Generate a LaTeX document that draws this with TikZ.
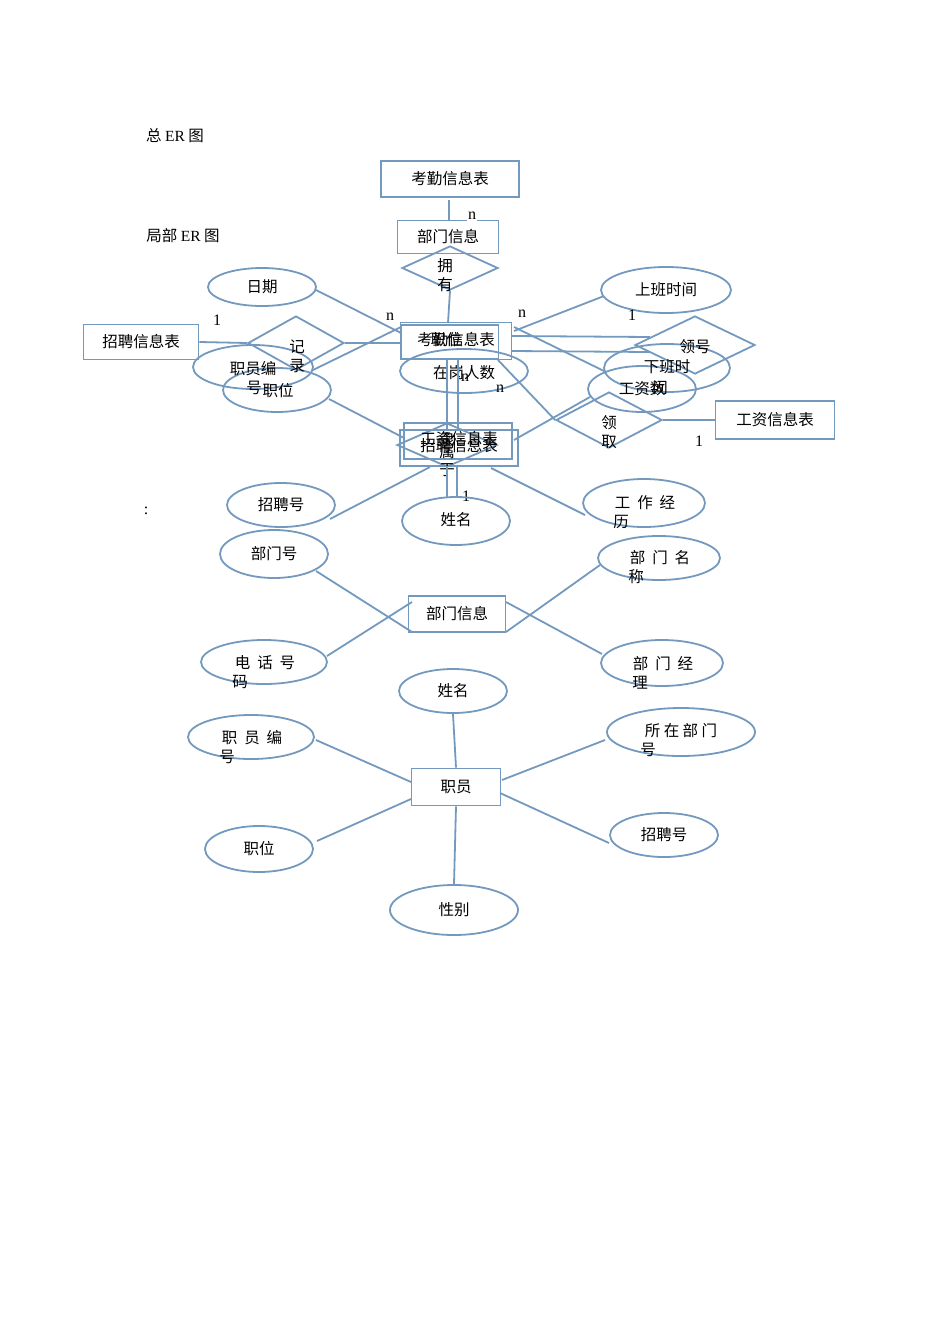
\documentclass[tikz,border=0pt]{standalone}
\usepackage{fontspec}
\setmainfont{Liberation Serif}
\newfontfamily\cjk{Noto Sans CJK SC}
\usetikzlibrary{shapes.geometric}
\definecolor{er}{HTML}{7399BF}
\tikzset{x=1pt,y=-1pt,
 ln/.style={draw=er,line width=1.8pt},
 ent/.style={ln,rectangle,minimum width=#1,minimum height=36pt,inner sep=0pt},
 att/.style={ln,ellipse,minimum width=#1,inner sep=0pt},
 rel/.style={ln,diamond,minimum width=#1,inner sep=0pt,aspect=2.1},
 tx/.style={font=\cjk\fontsize{15.5pt}{17pt}\selectfont,inner sep=0pt},
 lt/.style={font=\fontsize{16pt}{17pt}\selectfont,inner sep=0pt}}
\begin{document}
\begin{tikzpicture}
\useasboundingbox (0,0) rectangle (950,1344);
\node[tx] (t1) at (175,136) {总 \textrm{ER} 图};
\node[tx] (t2) at (183,236) {局部 \textrm{ER} 图};
\node[lt] (t3) at (146,511) {:};
% top
\node[ent=138pt] (kq1) at (450,179) {};
\node[tx] at (kq1) {考勤信息表};
\node[ent=101pt,minimum height=33pt] (bm1) at (448,237) {};
\node[tx] at (bm1) {部门信息};
\node[rel=96pt,minimum height=44pt] (yy) at (450,268) {};
\node[tx] at (445,266) {拥}; \node[tx] at (445,285) {有};
\node[lt,fill=white,inner sep=1pt] at (472,216) {n};
\node[att=108pt,minimum height=38pt] (rq) at (262,287) {}; \node[tx] at (rq) {日期};
\node[att=130pt,minimum height=46pt] (sb) at (666,290) {}; \node[tx] at (sb) {上班时间};
\node[ent=115pt,minimum height=35pt] (zp1) at (141,342) {}; \node[tx] at (zp1) {招聘信息表};
\node[lt] at (217,320) {1};
\node[rel=96pt,minimum height=54pt] (jl) at (296,343) {};
\node[att=120pt,minimum height=44pt] (zb1) at (253,367) {};
\node[att=108pt,minimum height=44pt] (zw1) at (277,390) {};
\node[tx] at (297,347) {记}; \node[tx] at (297,366) {录};
\node[tx] at (253,369) {职员编}; \node[tx] at (254,388) {号};
\node[tx] at (278,391) {职位};
\node[ent=111pt,minimum height=37pt] (kq2) at (456,341) {};
\node[ent=97pt,minimum height=34pt] (kq3) at (450,342) {};
\node[tx] at (456,340) {考勤信息表}; \node[tx] at (446,340) {职位};
\node[lt] at (390,317) {n}; \node[lt] at (522,314) {n};
\node[att=128pt,minimum height=44pt] (zg) at (464,371) {}; \node[tx] at (464,373) {在岗人数};
\node[lt] at (465,378) {n}; \node[lt] at (500,389) {n};
\node[lt] at (632,315) {1};
\node[rel=120pt,minimum height=58pt] (lh) at (695,345) {};
\node[att=126pt,minimum height=48pt] (xb) at (667,368) {};
\node[att=108pt,minimum height=46pt] (gz) at (642,389) {};
\node[tx] at (695,347) {领号};
\node[tx] at (667,367) {下班时}; \node[tx] at (660,388) {间};
\node[tx] at (642,389) {工资数};
\node[rel=106pt,minimum height=56pt] (lq) at (609,420) {};
\node[tx] at (609,423) {领}; \node[tx] at (609,442) {取};
\node[ent=119pt,minimum height=38pt] (gz1) at (775,420) {}; \node[tx] at (gz1) {工资信息表};
\node[lt] at (699,441) {1};
\node[ent=108pt,minimum height=36pt] (gz2) at (458,441) {};
\node[ent=118pt,minimum height=36pt] (zp2) at (459,448) {};
\node[rel=100pt,minimum height=44pt] (ls) at (447,445) {};
\node[tx] at (459,439) {工资信息表}; \node[tx] at (459,446) {招聘信息表};
\node[tx] at (447,452) {属}; \node[tx] at (447,470) {于}; \node[tx] at (447,440) {隶};
\node[lt] at (466,496) {1};
\node[att=108pt,minimum height=44pt] (zph1) at (281,505) {}; \node[tx] at (zph1) {招聘号};
\node[att=108pt,minimum height=48pt] (xm1) at (456,521) {}; \node[tx] at (456,520) {姓名};
\node[att=122pt,minimum height=48pt] (jy) at (644,503) {};
\node[tx] at (645,503) {工\ \ 作\ \ 经}; \node[tx] at (621,522) {历};
\coordinate (c1) at (449,200); \coordinate (c2) at (449,220);
\draw[ln] (c1) -- (c2);
\draw[ln] (yy.south) -- (448,323);
\draw[ln] (316,290) -- (401,333);
\draw[ln] (jl.east) -- (401,343);
\draw[ln] (zp1.east) -- (jl.west);
\draw[ln] (313,370) -- (401,327);
\draw[ln] (604,296) -- (514,331);
\draw[ln] (512,336) -- (650,337);
\draw[ln] (512,351) -- (650,352);
\draw[ln] (514,327) -- (604,371);
\draw[ln] (498,360) -- (lq.west);
\draw[ln] (lq.east) -- (gz1.west);
\draw[ln] (590,397) -- (514,440);
\draw[ln] (329,399) -- (404,438);
\draw[ln] (447,360) -- (447,430);
\draw[ln] (458,360) -- (458,430);
\draw[ln] (430,467) -- (330,519);
\draw[ln] (447,466) -- (447,497);
\draw[ln] (457,466) -- (457,497);
\draw[ln] (491,468) -- (585,515);
% dept
\node[att=108pt,minimum height=48pt] (bmh) at (274,554) {}; \node[tx] at (bmh) {部门号};
\node[ent=97pt,minimum height=36pt] (bm2) at (457,614) {}; \node[tx] at (bm2) {部门信息};
\node[att=122pt,minimum height=44pt] (bmm) at (659,558) {};
\node[tx] at (660,558) {部\ \ 门\ \ 名}; \node[tx] at (636,577) {称};
\node[att=126pt,minimum height=44pt] (dh) at (264,662) {};
\node[tx] at (265,663) {电\ \ 话\ \ 号}; \node[tx] at (240,682) {码};
\node[att=122pt,minimum height=46pt] (jl2) at (662,663) {};
\node[tx] at (663,664) {部\ \ 门\ \ 经}; \node[tx] at (640,683) {理};
\draw[ln] (316,571) -- (412,632);
\draw[ln] (327,656) -- (412,602);
\draw[ln] (600,565) -- (506,632);
\draw[ln] (602,654) -- (506,602);
% staff
\node[att=108pt,minimum height=44pt] (xm2) at (453,691) {}; \node[tx] at (xm2) {姓名};
\node[ent=89pt,minimum height=37pt] (zy) at (456,787) {}; \node[tx] at (zy) {职员};
\node[att=126pt,minimum height=44pt] (zb2) at (251,737) {};
\node[tx] at (252,738) {职\ \ 员\ \ 编}; \node[tx] at (227,757) {号};
\node[att=148pt,minimum height=48pt] (sz) at (681,732) {};
\node[tx] at (681,731) {所\ 在\ 部\ 门}; \node[tx] at (648,750) {号};
\node[att=108pt,minimum height=46pt] (zw2) at (259,849) {}; \node[tx] at (zw2) {职位};
\node[att=108pt,minimum height=44pt] (zph2) at (664,835) {}; \node[tx] at (zph2) {招聘号};
\node[att=128pt,minimum height=50pt] (xb2) at (454,910) {}; \node[tx] at (xb2) {性别};
\draw[ln] (xm2.south) -- (zy.north);
\draw[ln] (316,740) -- (411,782);
\draw[ln] (605,740) -- (502,780);
\draw[ln] (317,841) -- (411,799);
\draw[ln] (609,843) -- (500,793);
\draw[ln] (xb2.north) -- (zy.south);
\end{tikzpicture}
\end{document}
